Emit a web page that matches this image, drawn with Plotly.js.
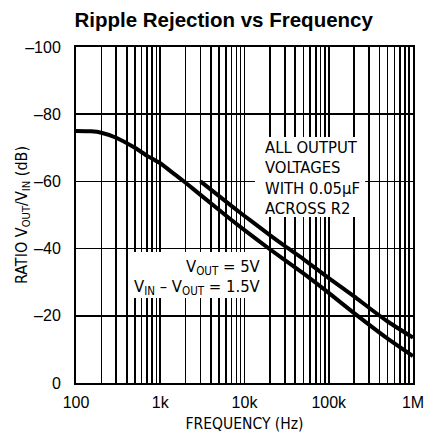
<!DOCTYPE html>
<html>
<head>
<meta charset="utf-8">
<script src="https://cdn.plot.ly/plotly-3.0.1.min.js"></script>
<style>html,body{margin:0;padding:0;background:#fff;}#chart{width:426px;height:436px;}</style>
</head>
<body>
<div id="chart"></div>
<script>
// Data
var freqMain = [100,150,200,300,500,700,1000,1500,2000,3000,5000,7000,10000,20000,50000,100000,200000,500000,1000000];
var rejMain  = [-75,-74.9,-74.5,-73,-70,-67.6,-65.4,-62,-59.6,-56,-51.5,-48.5,-45.5,-39.8,-32.6,-26.8,-20.8,-13.2,-8];
var freqUpper = [3000,5000,10000,15000,20000,30000,50000,100000,200000,300000,500000,1000000];
var rejUpper  = [-60,-55.6,-49.7,-46.4,-44.0,-40.8,-36.9,-31.2,-25.8,-22.4,-18.3,-13.5];
var decades = [100,1000,10000,100000,1000000];
var decadeLabels = ['100','1k','10k','100k','1M'];
var yTicks = [0,-20,-40,-60,-80,-100];

// minor grid positions at 2..9 of each decade
var minorVals = [];
for (var d = 0; d < decades.length - 1; d++) {
  for (var m = 2; m <= 9; m++) minorVals.push(decades[d] * m);
}

var narrow = 'Liberation Sans Narrow, DejaVu Sans Condensed, Arial Narrow, sans-serif';
var base = 'Liberation Sans, Arial, Helvetica, sans-serif';

var traces = [
  {x: freqMain, y: rejMain, mode: 'lines', line: {color: '#000', width: 4, shape: 'spline', smoothing: 0.5}, hoverinfo: 'skip'},
  {x: freqUpper, y: rejUpper, mode: 'lines', line: {color: '#000', width: 4, shape: 'spline', smoothing: 0.5}, hoverinfo: 'skip'}
];

function ann(text, x, y, xanchor) {
  return {text: text, xref: 'paper', yref: 'paper', x: x, y: y, xanchor: xanchor, yanchor: 'middle',
          showarrow: false, align: xanchor, font: {family: narrow, size: 16.5, color: '#000'}};
}

var yTitle = ann('RATIO V<sub>OUT</sub>/V<sub>IN</sub> (dB)', -0.160, 0.5, 'center');
yTitle.textangle = -90;
yTitle.font = {family: narrow, size: 16, color: '#000'};

var layout = {
  width: 426, height: 436,
  margin: {l: 76, r: 13, t: 47, b: 53},
  paper_bgcolor: '#fff', plot_bgcolor: '#fff',
  showlegend: false,
  title: {text: '<b>Ripple Rejection vs Frequency</b>', font: {family: base, size: 20.5, color: '#000'},
          xref: 'container', yref: 'container', x: 0.525, y: 0.954, xanchor: 'center', yanchor: 'middle'},
  xaxis: {
    type: 'log', range: [2, 6], tickmode: 'array', tickvals: decades, ticktext: decadeLabels,
    showgrid: true, gridcolor: '#000', gridwidth: 1.6,
    minor: {tickmode: 'array', tickvals: minorVals, showgrid: true, gridcolor: '#000', gridwidth: 1.6, ticks: ''},
    showline: true, linecolor: '#000', linewidth: 2, mirror: true,
    ticks: '', ticklabelstandoff: 4, zeroline: false,
    tickfont: {family: base, size: 16, color: '#000'},
    title: {text: 'FREQUENCY (Hz)', font: {family: narrow, size: 15.5, color: '#000'}, standoff: 8}
  },
  yaxis: {
    range: [0, -100], tickmode: 'array', tickvals: yTicks, ticktext: yTicks.map(function(v){return v === 0 ? '0' : '\u2013' + Math.abs(v);}),
    showgrid: true, gridcolor: '#000', gridwidth: 1.6,
    showline: true, linecolor: '#000', linewidth: 2, mirror: true,
    ticks: '', ticklabelstandoff: 10, zeroline: false,
    tickfont: {family: base, size: 16, color: '#000'}
  },
  shapes: [
    {type: 'rect', xref: 'paper', yref: 'paper', x0: 0.531, x1: 0.858, y0: 0.494, y1: 0.732,
     fillcolor: '#fff', line: {width: 0}, layer: 'above'},
    {type: 'rect', xref: 'paper', yref: 'paper', x0: 0.163, x1: 0.564, y0: 0.253, y1: 0.390,
     fillcolor: '#fff', line: {width: 0}, layer: 'above'}
  ],
  annotations: [
    ann('ALL OUTPUT', 0.555, 0.702, 'left'),
    ann('VOLTAGES', 0.555, 0.640, 'left'),
    ann('WITH 0.05\u00b5F', 0.555, 0.580, 'left'),
    ann('ACROSS R2', 0.555, 0.518, 'left'),
    ann('V<sub>OUT</sub> = 5V', 0.555, 0.345, 'right'),
    ann('V<sub>IN</sub> \u2013 V<sub>OUT</sub> = 1.5V', 0.555, 0.285, 'right'),
    yTitle
  ]
};

Plotly.newPlot('chart', traces, layout, {staticPlot: true, displayModeBar: false});
</script>
</body>
</html>
